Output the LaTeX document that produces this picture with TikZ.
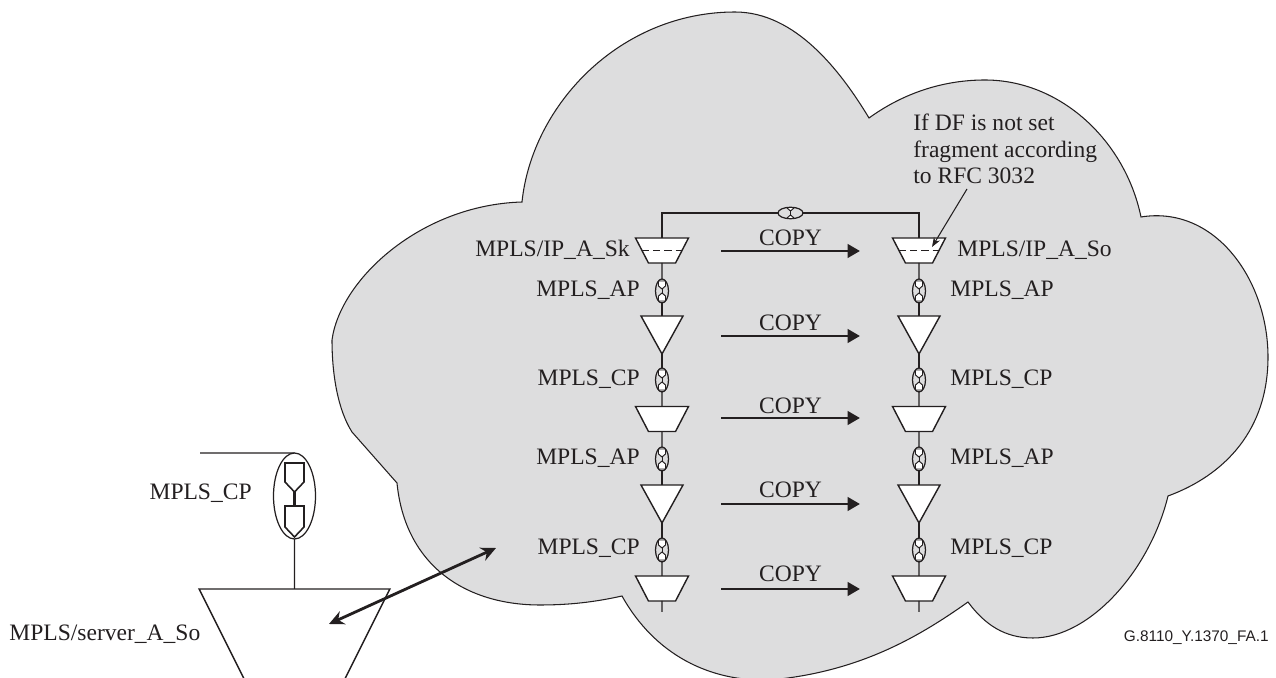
\documentclass[tikz,border=0pt]{standalone}
\usepackage{fontspec}
\setmainfont{Liberation Serif}
\setsansfont{Liberation Sans}
\usepackage{xcolor}
\usetikzlibrary{shapes, arrows.meta, positioning}
\definecolor{cloudGray}{RGB}{221, 221, 222}
\definecolor{inkBlack}{RGB}{35, 31, 32}

\begin{document}
\begin{tikzpicture}[
    x=0.02cm, y=-0.02cm,
    every path/.style={color=inkBlack},
    every node/.style={text=inkBlack},
    thinline/.style={draw, line width=0.65pt},
    cloudarea/.style={fill=cloudGray, draw, line width=0.6pt},
    mux/.style={trapezium, draw, fill=white, line width=0.8pt, inner sep=0, outer sep=0, shape border rotate=180,
        trapezium stretches=true, trapezium left angle=62.5, trapezium right angle=62.5, minimum width=1.06cm, minimum height=0.5cm},
    servermux/.style={mux, trapezium left angle=59, trapezium right angle=59, minimum width=3.82cm, minimum height=2cm},
    tri/.style={isosceles triangle, draw, fill=white, line width=0.8pt, inner sep=0, outer sep=0, shape border rotate=270,
        isosceles triangle stretches, minimum width=0.84cm, minimum height=0.76cm, anchor=apex},
    conpt/.style={ellipse, draw, line width=0.7pt, inner sep=0, outer sep=0, minimum width=0.26cm, minimum height=0.48cm,
        path picture={\begin{scope}[shift={(path picture bounding box.center)}, rotate=#1]
            \draw[fill=white, line width=0.55pt] (-3.5,-10) -- (3.5,-10) -- (3.5,-5) -- (0,-2) -- (-3.5,-5) -- cycle;
            \draw[fill=white, line width=0.55pt] (-3.5,10) -- (3.5,10) -- (3.5,5) -- (0,2) -- (-3.5,5) -- cycle;
            \draw[line width=0.55pt] (0,-2) -- (0,2);
        \end{scope}}},
    bigconpt/.style={ellipse, draw, line width=0.7pt, inner sep=0, outer sep=0, minimum width=0.84cm, minimum height=1.72cm,
        path picture={\begin{scope}[shift={(path picture bounding box.center)}]
            \draw[line width=0.9pt] (-9.5,-33) -- (9.5,-33) -- (9.5,-14) -- (0,-4) -- (-9.5,-14) -- cycle;
            \draw[line width=0.9pt] (-9.5,10) -- (9.5,10) -- (9.5,31) -- (0,41) -- (-9.5,31) -- cycle;
            \draw[line width=1.2pt] (0,-4) -- (0,10);
        \end{scope}}},
    lbl/.style={font=\fontsize{13.4}{15}\selectfont, inner sep=0},
    copyarrow/.style={-{Triangle[length=7pt, width=7.6pt]}, line width=1.6pt},
    copyboth/.style={{Stealth[length=8.5pt, width=8pt]}-{Stealth[length=8.5pt, width=8pt]}, line width=1.6pt},
    notearrow/.style={-{Stealth[length=5.5pt, width=4pt]}, line width=0.6pt}
]
    \useasboundingbox (0,0) rectangle (1276,678);
    % Cloud outline, lobe by lobe
    \path[cloudarea] (397,483) -- (352,432)
        .. controls (338,410) and (332,375) .. (332,340)
        .. controls (340,280) and (420,205) .. (522,202)
        .. controls (532,105) and (620,12) .. (735,12)
        .. controls (795,12) and (840,70) .. (869,118)
        .. controls (905,92) and (945,80) .. (985,80)
        .. controls (1060,80) and (1125,140) .. (1141,217)
        .. controls (1215,205) and (1268,280) .. (1268,357)
        .. controls (1268,430) and (1225,475) .. (1168,496)
        .. controls (1150,570) and (1090,638) .. (1033,638)
        .. controls (1005,638) and (985,625) .. (968,602)
        .. controls (920,636) and (860,672) .. (770,680)
        .. controls (710,682) and (655,655) .. (622,596)
        .. controls (595,602) and (570,605) .. (540,605)
        .. controls (465,605) and (405,565) .. (397,483) -- cycle;

    % Both columns of the chain
    \foreach \col/\x in {src/662, dst/919} {
        \node[mux] (\col mux1) at (\x, 250.5) {\phantom{x}};
        \node[conpt=0] (\col cp1) at (\x, 291) {};
        \node[tri] (\col tri1) at (\x, 354) {\phantom{x}};
        \node[conpt=0] (\col cp2) at (\x, 380) {};
        \node[mux] (\col mux2) at (\x, 419) {\phantom{x}};
        \node[conpt=0] (\col cp3) at (\x, 459) {};
        \node[tri] (\col tri2) at (\x, 523) {\phantom{x}};
        \node[conpt=0] (\col cp4) at (\x, 550) {};
        \node[mux] (\col mux3) at (\x, 588.5) {\phantom{x}};
        \coordinate (\col end) at (\x, 612);
        \draw[thinline] (\col mux1.south) -- (\col cp1.north);
        \draw[thinline] (\col cp1.south) -- (\col tri1.lower side);
        \draw[thinline] (\col tri1.apex) -- (\col cp2.north);
        \draw[thinline] (\col cp2.south) -- (\col mux2.north);
        \draw[thinline] (\col mux2.south) -- (\col cp3.north);
        \draw[thinline] (\col cp3.south) -- (\col tri2.lower side);
        \draw[thinline] (\col tri2.apex) -- (\col cp4.north);
        \draw[thinline] (\col cp4.south) -- (\col mux3.north);
        \draw[thinline] (\col mux3.south) -- (\col end);
        \draw[line width=0.6pt, dash pattern=on 4pt off 2.4pt] (\col mux1.west) -- (\col mux1.east);
    }
    % Top link between the columns
    \node[conpt=90, minimum width=0.5cm, minimum height=0.23cm] (toplink) at (790.5, 213) {};
    \draw[thinline] (srcmux1.north) |- (toplink.west);
    \draw[thinline] (toplink.east) -| (dstmux1.north);

    % COPY arrows
    \foreach \n/\ya/\yb in {1/251/246, 2/336/331, 3/418/414, 4/504/498, 5/589/582} {
        \node[lbl, anchor=base] (copy\n) at (790.5, \yb) {COPY};
        \coordinate (from\n) at (721, \ya);
        \coordinate (to\n) at (860, \ya);
        \draw[copyarrow] (from\n) -- (to\n);
    }

    % Labels, left column then right column
    \node[lbl, anchor=base east] (ipsk) at (630, 257) {MPLS/IP\_A\_Sk};
    \node[lbl, anchor=base east] (lap1) at (640, 297) {MPLS\_AP};
    \node[lbl, anchor=base east] (lcp1) at (640, 386) {MPLS\_CP};
    \node[lbl, anchor=base east] (lap2) at (640, 465) {MPLS\_AP};
    \node[lbl, anchor=base east] (lcp2) at (640, 555) {MPLS\_CP};
    \node[lbl, anchor=base west] (ipso) at (957, 257) {MPLS/IP\_A\_So};
    \node[lbl, anchor=base west] (rap1) at (950, 297) {MPLS\_AP};
    \node[lbl, anchor=base west] (rcp1) at (950, 386) {MPLS\_CP};
    \node[lbl, anchor=base west] (rap2) at (950, 465) {MPLS\_AP};
    \node[lbl, anchor=base west] (rcp2) at (950, 555) {MPLS\_CP};

    % Fragment note
    \node[lbl, anchor=west, align=left] (note) at (913, 149) {If DF is not set\\fragment according\\to RFC 3032};
    \coordinate (notefoot) at (967, 189);
    \coordinate (notetip) at (932, 247);
    \draw[notearrow] (notefoot) -- (notetip);

    % Server side
    \node[servermux] (server) at (294.5, 639) {\phantom{x}};
    \node[bigconpt] (servercp) at (294.5, 496) {};
    \coordinate (serverlead) at (200, 453);
    \draw[thinline] (serverlead) -- (servercp.north);
    \draw[thinline] (servercp.south) -- (server.north);
    \node[lbl, anchor=base east] (servercplbl) at (252, 500) {MPLS\_CP};
    \node[lbl, anchor=base west] (serverlbl) at (9, 641) {MPLS/server\_A\_So};
    \coordinate (bothA) at (329, 624);
    \coordinate (bothB) at (496, 548);
    \draw[copyboth] (bothA) -- (bothB);

    \node[font=\sffamily\fontsize{8.75}{10}\selectfont, inner sep=0, anchor=base east] (figid) at (1269, 642) {G.8110\_Y.1370\_FA.1};
\end{tikzpicture}
\end{document}
